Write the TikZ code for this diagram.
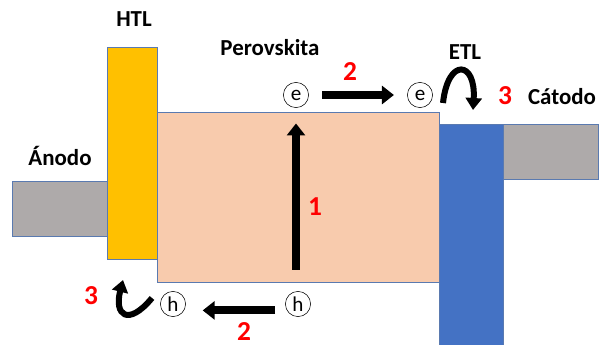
\documentclass[tikz,border=0pt]{standalone}
\usepackage{fontspec}
\setmainfont{Carlito}
\usepackage{tikz}
\usetikzlibrary{arrows.meta}
\definecolor{gris}{HTML}{AEAAAA}
\definecolor{amarillo}{HTML}{FFC000}
\definecolor{melocoton}{HTML}{F8CBAD}
\definecolor{azul}{HTML}{4472C4}
\definecolor{borde}{HTML}{5A7AB0}
\definecolor{rojo}{HTML}{FF0000}

\tikzset{
  capa/.style={draw=borde, line width=0.6pt, rectangle, inner sep=0pt, anchor=south west},
  etiq/.style={font=\bfseries\fontsize{16.3}{19}\selectfont, anchor=base},
  paso/.style={text=rojo, font=\bfseries\fontsize{19.5}{22}\selectfont, anchor=base},
  carga/.style={draw, circle, minimum size=0.63cm, inner sep=0pt, font=\fontsize{15}{18}\selectfont},
  flecha/.style={-{Triangle[width=0.45cm,length=0.3cm]}, line width=0.2cm},
  salto/.style={-{Triangle[width=0.4cm,length=0.3cm]}, line width=0.15cm}
}

\begin{document}
\begin{tikzpicture}
\useasboundingbox (0,0) rectangle (15,8.625);

% layers of the cell
\node[capa, fill=gris, minimum width=2.375cm, minimum height=1.375cm] (anodo) at (0.3,2.7) {};
\node[capa, fill=amarillo, minimum width=1.25cm, minimum height=5.3cm] (htl) at (2.675,2.125) {};
\node[capa, fill=melocoton, minimum width=7.05cm, minimum height=4.25cm] (perov) at (3.925,1.55) {};
\node[capa, fill=azul, minimum width=1.6cm, minimum height=5.55cm] (etl) at (10.975,-0.05) {};
\node[capa, fill=gris, minimum width=2.375cm, minimum height=1.375cm] (catodo) at (12.575,4.125) {};

% names of the layers
\node[etiq] (lhtl) at (3.35,7.95) {HTL};
\node[etiq] (lperov) at (6.75,7.225) {Perovskita};
\node[etiq] (letl) at (11.625,7.125) {ETL};
\node[etiq] (lcatodo) at (14.05,6.0) {Cátodo};
\node[etiq] (lanodo) at (1.5,4.475) {Ánodo};

% electrons and holes
\node[carga] (e1) at (7.4,6.25) {e};
\node[carga] (e2) at (10.5,6.25) {e};
\node[carga] (h1) at (7.45,1.025) {h};
\node[carga] (h2) at (4.325,1.025) {h};

% 1: generation
\draw[flecha, shorten <=0.53cm, shorten >=0.39cm] (h1.north -| e1) -- (e1.south);
% 2: transport
\draw[flecha, shorten <=0.33cm, shorten >=0.33cm] (e1) -- (e2);
\draw[flecha, shorten <=0.25cm, shorten >=0.42cm] ([yshift=-0.16cm] h1.west) -- ([yshift=-0.16cm] h2.east);
% 3: extraction
\coordinate (s1) at (11.075,6.05);
\coordinate (s2) at (11.825,5.875);
\draw[salto] (s1) .. controls (11.2,7.2) and (11.9,7.1) .. (s2);
\coordinate (s3) at (3.8,1.175);
\coordinate (s4) at (3.075,1.625);
\draw[salto] (s3) .. controls (3.2,0.45) and (2.85,0.75) .. (s4);

% step numbers
\node[paso] (n1) at (7.875,3.225) {1};
\node[paso] (n2a) at (8.75,6.6) {2};
\node[paso] (n2b) at (6.1,0.12) {2};
\node[paso] (n3a) at (12.625,6.0) {3};
\node[paso] (n3b) at (2.275,1.0) {3};
\end{tikzpicture}
\end{document}
